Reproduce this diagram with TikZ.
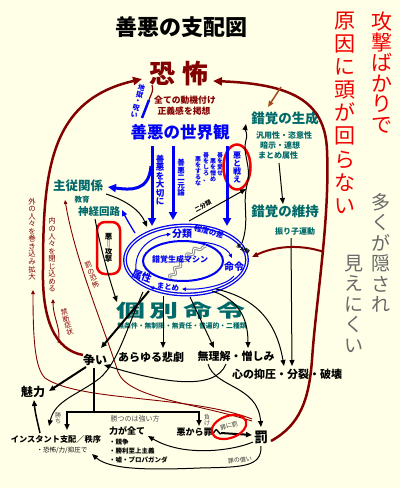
\documentclass[tikz,border=0pt]{standalone}
\usepackage{fontspec}
\setmainfont{Noto Sans CJK JP}
\usetikzlibrary{arrows.meta,decorations.pathmorphing}
\definecolor{bgc}{RGB}{255,255,232}
\definecolor{dkred}{RGB}{130,0,0}
\definecolor{bblue}{RGB}{0,0,245}
\definecolor{teal2}{RGB}{0,105,105}
\definecolor{hred}{RGB}{240,0,0}
\definecolor{gry}{RGB}{105,105,105}
\definecolor{brn}{RGB}{165,75,25}
\definecolor{sq}{RGB}{150,150,150}
\ExplSyntaxOn
\NewDocumentCommand\vtext{O{1.05}m}{\vbox{\baselineskip=#1em\lineskiplimit=-100pt\lineskip=0pt\tl_map_inline:nn{#2}{\hbox~to~1em{\hss##1\hss}}}}
\ExplSyntaxOff
\newcommand\fs[1]{\fontsize{#1}{#1}\selectfont}
\begin{document}
\begin{tikzpicture}[x=1pt,y=-1pt,
  every node/.style={inner sep=0pt,outer sep=0pt},
  ar/.style={-{Triangle[length=6pt,width=5pt]}},
  ars/.style={-{Triangle[length=4pt,width=3.5pt]}},
  arb/.style={-{Triangle[length=8pt,width=8pt]}},
  bl/.style={bblue,line width=3pt,arb},
  bk/.style={black,line width=1pt,ar},
  bkt/.style={black,line width=2pt,ar},
  rd/.style={dkred,line width=0.9pt,ars}]
\fill[bgc] (0,0) rectangle (400,488);
\useasboundingbox (0,0) rectangle (400,488);

% titles and side texts
\node[font=\fs{22}\bfseries] (title) at (181,27) {善悪の支配図};
\node[text=hred,font=\fs{21},anchor=north] (r1) at (382,12) {\vtext[0.98]{攻撃ばかりで}};
\node[text=hred,font=\fs{21},anchor=north] (r2) at (345,12) {\vtext[1.1]{原因に頭が回らない}};
\node[text=gry,font=\fs{19},anchor=north] (gy1) at (381,193) {\vtext[1.08]{多くが隠され}};
\node[text=gry,font=\fs{19},anchor=north] (gy2) at (354,255) {\vtext[1.08]{見えにくい}};

% top
\node[text=dkred,font=\fs{26}\bfseries] (fear) at (179,74) {恐\hspace{7pt}怖};
\node[text=dkred,font=\fs{8.8}\bfseries] (motive) at (185,100) {全ての動機付け};
\node[text=dkred,font=\fs{8.8}\bfseries] (justice) at (184,111) {正義感を掲想};
\node[text=bblue,font=\fs{16.5}\bfseries] (world) at (180,132) {善悪の世界観};
\node[text=bblue,font=\fs{7}\bfseries,rotate=-15] (hell) at (138,101) {\vtext[1.0]{地獄・呪い}};
\node[text=bblue,font=\fs{8.5}\bfseries] (l1) at (160,180) {\vtext[1.0]{善悪を大切に}};
\node[text=bblue,font=\fs{7.5}\bfseries] (l2) at (181,178) {\vtext[1.0]{善悪二元論}};
\node[text=bblue,font=\fs{6}\bfseries,anchor=north] (l3a) at (206,152) {\vtext[1.0]{善をしろ、}};
\node[text=bblue,font=\fs{6}\bfseries,anchor=north] (l3b) at (198,157) {\vtext[1.0]{悪をするな}};
\node[text=bblue,font=\fs{6}\bfseries,anchor=north] (l4a) at (220,152) {\vtext[1.0]{善を愛せ}};
\node[text=bblue,font=\fs{6}\bfseries,anchor=north] (l4b) at (213,159) {\vtext[1.0]{悪を憎め}};
\node[text=bblue,font=\fs{8}\bfseries] (fight) at (237,167) {\vtext[1.0]{悪と戦え}};

% illusion side
\node[text=teal2,font=\fs{13.5}\bfseries] (gen) at (285,118) {錯覚の生成};
\node[text=teal2,font=\fs{8}\bfseries] (gen1) at (284,135) {汎用性・恣意性};
\node[text=teal2,font=\fs{8}\bfseries] (gen2) at (280,145) {暗示・連想};
\node[text=teal2,font=\fs{8}\bfseries] (gen3) at (278,155) {まとめ属性};
\node[text=teal2,font=\fs{13.5}\bfseries] (keep) at (285,211) {錯覚の維持};
\node[text=teal2,font=\fs{8}\bfseries] (pend) at (295,231) {振り子運動};
\node[text=teal2,font=\fs{12.5}\bfseries] (master) at (78,186) {主従関係};
\node[text=teal2,font=\fs{7.5}\bfseries] (edu) at (82,200) {教育};
\node[text=teal2,font=\fs{10.5}\bfseries] (neural) at (99,212) {神経回路};

% machine ellipse
\draw[bblue,line width=1.3pt,double=bgc,double distance=1.2pt] (186,260) ellipse [x radius=61pt,y radius=34.5pt];
\draw[bblue,line width=2pt] (183,261) ellipse [x radius=40pt,y radius=20pt];
\draw[sq,line width=3pt,decorate,decoration={snake,amplitude=2pt,segment length=9pt}] (170,279) .. controls (178,265) and (190,252) .. (206,246);
\draw[white,line width=0.8pt,decorate,decoration={snake,amplitude=2pt,segment length=9pt}] (170,279) .. controls (178,265) and (190,252) .. (206,246);
\node[text=bblue,font=\fs{8}\bfseries] (machine) at (180,259) {錯覚生成マシン};
\node[text=bblue,font=\fs{10}\bfseries] (cls) at (182,234) {分類};
\node[text=bblue,font=\fs{7.5}\bfseries,rotate=-15] (deg) at (209,232) {程度の差};
\node[font=\fs{5}\bfseries,rotate=-35] (multi) at (243,249) {多分類};
\node[text=bblue,font=\fs{10}\bfseries] (cmd) at (234,267) {命令};
\node[text=bblue,font=\fs{10}\bfseries,rotate=-20] (attr) at (142,276) {属性};
\node[text=bblue,font=\fs{7.5}\bfseries,rotate=-5] (matome) at (168,287) {まとめ};
\draw[bblue,line width=1pt,ars] (136,270) .. controls (134,250) and (150,237) .. (171,234);
\draw[bblue,line width=1pt,ars] (196,242) .. controls (215,242) and (227,248) .. (232,258);
\draw[bblue,line width=1pt,ars] (234,276) .. controls (228,284) and (205,290) .. (182,289);
\draw[bblue,line width=1pt,ars] (157,289) -- (150,287);

% evil box
\draw[hred,line width=2.5pt,rounded corners=8pt] (97,222) rectangle (120,274);
\node[font=\fs{7.5}\bfseries] (evil) at (108.5,248) {\vtext[1.0]{悪‖攻撃}};
\draw[hred,line width=2.5pt] (237,167) ellipse [x radius=13.5pt,y radius=22.5pt];

% individual orders
\node[text=teal2,font=\fs{20}\bfseries,xscale=1.45,yscale=0.9] (indiv) at (181,311) {個\hspace{3pt}別\hspace{3pt}命\hspace{3pt}令};
\node[text=teal2,font=\fs{6.8}\bfseries] (indiv2) at (182,326) {無条件・無制限・無責任・普遍的・二種類};

% bottom texts
\node[font=\fs{12}\bfseries] (conflict) at (95,360) {争い};
\node[font=\fs{11}\bfseries] (tragedy) at (151,357) {あらゆる悲劇};
\node[font=\fs{11}\bfseries] (hatred) at (236,356) {無理解・憎しみ};
\node[font=\fs{11}\bfseries] (suppr) at (287,374) {心の抑圧・分裂・破壊};
\node[font=\fs{12}\bfseries] (charm) at (33,392) {魅力};
\node[font=\fs{8.2}\bfseries] (instant) at (56,439) {インスタント支配／秩序};
\node[font=\fs{6.5}] (inst2) at (62,450) {・恐怖/力/抑圧で};
\node[font=\fs{9}\bfseries] (power) at (127,431) {力が全て};
\node[font=\fs{6.5}\bfseries,anchor=west] (pw1) at (109,442) {・競争};
\node[font=\fs{6.5}\bfseries,anchor=west] (pw2) at (109,451) {・勝利至上主義};
\node[font=\fs{6.5}\bfseries,anchor=west] (pw3) at (109,460) {・嘘・プロパガンダ};
\node[font=\fs{9}\bfseries] (sin) at (199,432) {悪から罪へ};
\node[font=\fs{14}\bfseries] (pun) at (261,437) {罰};
\node[text=black!70,font=\fs{7}] (strong) at (135,419) {勝つのは強い方};
\node[text=black!70,font=\fs{6}] (win) at (58,418) {\vtext[1.0]{勝ち}};
\node[text=black!70,font=\fs{6}] (lose) at (207,420) {\vtext[1.0]{負け}};
\node[text=black!80,font=\fs{6},rotate=15] (sp) at (229,426) {罪に罰};
\node[text=black!80,font=\fs{6},rotate=5] (atone) at (240,460) {罪の償い};

% left red labels
\node[text=dkred,font=\fs{7.4}] (outer) at (32,239) {\vtext[1.02]{外の人々を巻き込み拡大}};
\node[text=dkred,font=\fs{7.4}] (inner) at (52,255) {\vtext[1.02]{内の人々を閉じ込める}};
\node[text=dkred,font=\fs{7},rotate=15] (withdraw) at (67,322) {\vtext[1.0]{禁断症状}};
\node[text=dkred,font=\fs{7},rotate=20] (pfear) at (92,275) {\vtext[1.0]{罰の恐怖}};

% upper connectors
\draw[bblue,line width=2.5pt] (142,118) -- (149,100);
\draw[dkred,line width=1.2pt] (149,100) .. controls (151,94) and (154,91) .. (152,85);
\draw[bl] (152,146) -- (152,226);
\draw[bl] (151,166) .. controls (149,192) and (130,190) .. (108,187);
\draw[bl] (173,146) -- (173,220);
\draw[bl] (227,146) -- (227,226);
\draw[bk] (106,194) .. controls (125,200) and (140,210) .. (147,227);
\draw[bblue,line width=1.3pt,ar] (135,233) .. controls (130,225) and (126,218) .. (122,210);
\draw[bk] (95,219) .. controls (100,245) and (108,275) .. (117,302);
\draw[bk] (189,221) -- (246,189);
\node[font=\fs{6}\bfseries,rotate=28] (two) at (203,206) {二分類};
\draw[bk] (242,243) .. controls (250,220) and (242,205) .. (247,185) .. controls (252,165) and (242,155) .. (246,140) .. controls (248,133) and (245,130) .. (246,124);
\draw[bk] (279,163) -- (283,204);
\draw[bk] (291,238) -- (292,366);
\draw[dkred,line width=2pt,ar] (324,252) .. controls (300,244) and (275,246) .. (252,257);
\draw[dkred,line width=2.5pt,-{Triangle[length=9pt,width=8pt]}] (271,441) .. controls (300,425) and (309,400) .. (312,360) .. controls (316,300) and (330,220) .. (327,150) .. controls (325,100) and (290,84) .. (213,81);
\draw[brn,line width=1.5pt,ar] (281,87) -- (268,107);
\draw[dkred,line width=2.5pt,-{Triangle[length=9pt,width=8pt]}] (83,355) .. controls (55,350) and (42,320) .. (43,270) .. controls (43,170) and (50,100) .. (142,79);

% thin red
\draw[rd] (252,419) .. controls (190,395) and (80,402) .. (45,378) .. controls (35,368) and (33,340) .. (33,290);
\draw[rd] (58,343) .. controls (62,330) and (53,318) .. (53,299);
\draw[rd] (252,421) .. controls (190,402) and (128,398) .. (118,372) .. controls (105,330) and (75,260) .. (65,200);

% lower connectors
\draw[bkt] (149,291) -- (101,348);
\draw[bk] (143,292) .. controls (126,330) and (118,362) .. (100,378) .. controls (78,395) and (55,400) .. (49,426);
\draw[bk] (163,296) -- (163,348);
\draw[bk] (190,297) -- (214,348);
\draw[bk] (212,291) .. controls (240,300) and (248,320) .. (248,348);
\draw[bk] (216,289) .. controls (255,298) and (276,320) .. (284,366);
\draw[bk] (226,364) .. controls (215,392) and (160,382) .. (104,365);
\draw[bk] (208,364) .. controls (215,388) and (258,385) .. (261,427);
\draw[black,line width=2pt] (94,368) -- (94,412);
\draw[black,line width=2pt] (66,412) -- (200,412);
\draw[bkt] (67,411) -- (67,430);
\draw[bkt] (199,411) -- (199,426);
\draw[bkt] (86,367) -- (49,391);
\draw[black,line width=1.5pt,ar] (40,433) .. controls (37,420) and (35,412) .. (34,400);
\draw[bkt] (221,433) -- (252,435);
\draw[bk] (253,442) .. controls (235,450) and (185,458) .. (148,436);
\draw[bk] (261,446) .. controls (262,468) and (240,467) .. (200,468) .. controls (150,470) and (110,470) .. (92,454);
\draw[hred,line width=2.2pt,rotate around={20:(229,427)}] (229,427) ellipse [x radius=18pt,y radius=11pt];
\end{tikzpicture}
\end{document}
